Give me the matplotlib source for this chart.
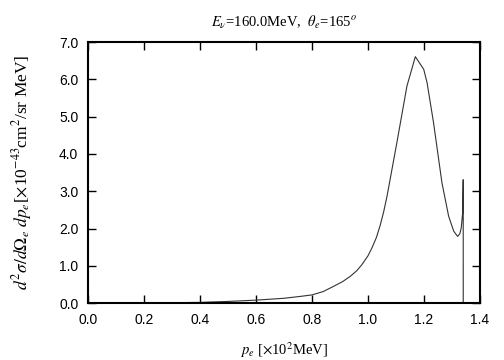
import matplotlib
matplotlib.use("Agg")
import matplotlib.pyplot as plt

# momentum of outgoing electron [x10^2 MeV] and cross section [x10^-43 cm^2/sr MeV]
p_e = [0.0, 0.2, 0.3, 0.4, 0.5, 0.6, 0.7, 0.758, 0.8, 0.84, 0.877, 0.91, 0.937,
       0.96, 0.978, 1.0, 1.014, 1.03, 1.044, 1.056, 1.068, 1.103, 1.139,
       1.169, 1.199, 1.211, 1.234, 1.264, 1.288, 1.306, 1.320,
       1.328, 1.333, 1.338, 1.340, 1.3401]
xsec = [0.0, 0.005, 0.01, 0.02, 0.045, 0.08, 0.13, 0.18, 0.22, 0.31, 0.45, 0.58, 0.72,
        0.87, 1.03, 1.27, 1.48, 1.76, 2.1, 2.45, 2.87, 4.30, 5.82,
        6.61, 6.27, 5.91, 4.84, 3.23, 2.33, 1.93, 1.79,
        1.86, 2.02, 2.42, 3.31, 0.0]

xticks = [0.0, 0.2, 0.4, 0.6, 0.8, 1.0, 1.2, 1.4]
yticks = [0.0, 1.0, 2.0, 3.0, 4.0, 5.0, 6.0, 7.0]

plt.rcParams["mathtext.fontset"] = "stix"
serif = "Liberation Serif"

fig = plt.figure(figsize=(5.04, 3.6), dpi=100)
ax = fig.add_axes([0.1746, 0.158, 0.7778, 0.725])

ax.plot(p_e, xsec, color="#333333", lw=0.8)

ax.set_xlim(0, 1.4)
ax.set_ylim(0, 7)
ax.set_xticks(xticks)
ax.set_yticks(yticks)
ax.set_xticklabels([f"{t:.1f}" for t in xticks], family="Liberation Sans", fontsize=10)
ax.set_yticklabels([f"{t:.1f}" for t in yticks], family="Liberation Sans", fontsize=10)
ax.tick_params(direction="in", length=6, width=1, top=True, right=True, pad=7)
for s in ax.spines.values():
    s.set_linewidth(1.5)

ax.set_title(r"$E_\nu$=160.0MeV,  $\theta_e$=165$^o$", family=serif, fontsize=10.5, pad=11)
ax.set_xlabel(r"$p_e$ [$\times$10$^2$MeV]", family=serif, fontsize=10.5, labelpad=10)
ax.set_ylabel(r"$d^2\sigma/d\Omega_e\ dp_e$[$\times$10$^{-43}$cm$^2$/sr MeV]",
              family=serif, fontsize=12.5, labelpad=18)

fig.savefig("out.png", dpi=100)
